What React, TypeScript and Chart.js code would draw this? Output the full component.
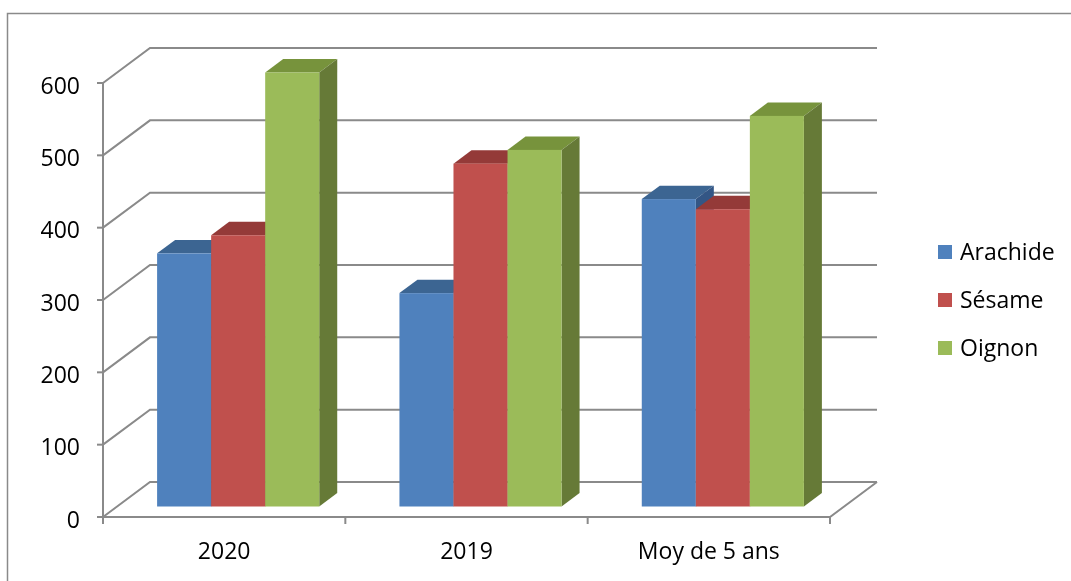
import React, { useEffect, useRef } from 'react';
import { Chart, registerables } from 'chart.js';

Chart.register(...registerables);

const categories = ['2020', '2019', 'Moy de 5 ans'];
const seriesNames = ['Arachide', 'Sésame', 'Oignon'];
const arachide = [350, 295, 425];
const sesame = [375, 474, 411];
const oignon = [600, 493, 540];
const yTicks = [0, 100, 200, 300, 400, 500, 600];

const frontColors = ['#4F81BD', '#C0504D', '#9BBB59'];
const topColors = ['#3C6592', '#943A38', '#77933C'];
const sideColors = ['#335685', '#8A3633', '#667A37'];

const FONT = '23px "Open Sans", "Noto Sans", sans-serif';
const LINE = '#8a8a8a';

const threeD = {
  id: 'threeD',
  beforeDatasetsDraw(chart: any) {
    const ctx: CanvasRenderingContext2D = chart.ctx;
    const xs = chart.scales.x;
    const ys = chart.scales.y;
    const L = xs.left;
    const R = xs.right;
    const B = ys.bottom;
    const DX = 47;
    const DY = -35;
    const line = (pts: number[][]) => {
      ctx.beginPath();
      ctx.moveTo(pts[0][0], pts[0][1]);
      for (let k = 1; k < pts.length; k++) ctx.lineTo(pts[k][0], pts[k][1]);
      ctx.stroke();
    };
    const poly = (pts: number[][], color: string) => {
      ctx.beginPath();
      ctx.moveTo(pts[0][0], pts[0][1]);
      for (let k = 1; k < pts.length; k++) ctx.lineTo(pts[k][0], pts[k][1]);
      ctx.closePath();
      ctx.fillStyle = color;
      ctx.fill();
    };
    ctx.save();
    // outer border
    ctx.strokeStyle = LINE;
    ctx.lineWidth = 1.5;
    ctx.strokeRect(7.5, 13.5, 3000, 3000);

    // back wall gridlines + connectors
    ctx.lineWidth = 2;
    ctx.strokeStyle = LINE;
    yTicks.forEach((v) => {
      const y = ys.getPixelForValue(v);
      line([[L, y], [L + DX, y + DY], [R + DX, y + DY]]);
      line([[L - 6, y], [L, y]]);
    });
    // floor front edge + right diagonal
    line([[L, B], [R, B], [R + DX, B + DY]]);
    // front vertical axis
    line([[L, ys.getPixelForValue(yTicks[yTicks.length - 1])], [L, B]]);
    // x tick marks
    const n = categories.length;
    for (let i = 0; i <= n; i++) {
      const x = L + (i * (R - L)) / n;
      line([[x, B], [x, B + 7]]);
    }

    // bars
    const OX = 14;
    const OY = -10.5;
    const BDX = 18;
    const BDY = -13.4;
    categories.forEach((_, i) => {
      chart.data.datasets.forEach((ds: any, j: number) => {
        const el = chart.getDatasetMeta(j).data[i];
        const p = el.getProps(['x', 'y', 'base', 'width'], true);
        const l = p.x - p.width / 2 + OX;
        const r = p.x + p.width / 2 + OX;
        const t = p.y + OY;
        const b = p.base + OY;
        poly([[l, t], [l + BDX, t + BDY], [r + BDX, t + BDY], [r, t]], topColors[j]);
        poly([[r, t], [r + BDX, t + BDY], [r + BDX, b + BDY], [r, b]], sideColors[j]);
        ctx.fillStyle = frontColors[j];
        ctx.fillRect(l, t, r - l, b - t);
      });
    });

    // y labels
    ctx.font = FONT;
    ctx.fillStyle = '#000';
    ctx.textAlign = 'right';
    ctx.textBaseline = 'alphabetic';
    yTicks.forEach((v) => {
      const y = ys.getPixelForValue(v);
      ctx.fillText(String(v), 80, y + 10.5);
    });
    // x labels
    ctx.textAlign = 'center';
    categories.forEach((c, i) => {
      ctx.fillText(c, xs.getPixelForValue(i), 559);
    });
    // legend
    ctx.textAlign = 'left';
    chart.data.datasets.forEach((ds: any, j: number) => {
      const base = 260 + j * 48;
      ctx.fillStyle = frontColors[j];
      ctx.fillRect(938, base - 15, 14, 14);
      ctx.fillStyle = '#000';
      ctx.fillText(ds.label, 960, base);
    });
    ctx.restore();
    return false;
  },
};

export default function App() {
  const ref = useRef<HTMLCanvasElement>(null);
  useEffect(() => {
    if (!ref.current) return;
    const chart = new Chart(ref.current, {
      type: 'bar',
      data: {
        labels: categories,
        datasets: [arachide, sesame, oignon].map((d, j) => ({
          label: seriesNames[j],
          data: d,
          backgroundColor: frontColors[j],
          categoryPercentage: 0.669,
          barPercentage: 1,
        })),
      },
      options: {
        animation: false,
        responsive: false,
        devicePixelRatio: 1,
        layout: { padding: { left: 103, right: 241, top: 83, bottom: 64 } },
        scales: {
          x: { display: false, offset: true },
          y: { display: false, min: 0, max: 600 },
        },
        plugins: { legend: { display: false }, tooltip: { enabled: false } },
      },
      plugins: [threeD],
    });
    return () => chart.destroy();
  }, []);
  return (
    <div style={{ position: 'fixed', left: 0, top: 0, width: 1071, height: 581, background: '#fff' }}>
      <canvas ref={ref} width={1071} height={581} />
    </div>
  );
}
